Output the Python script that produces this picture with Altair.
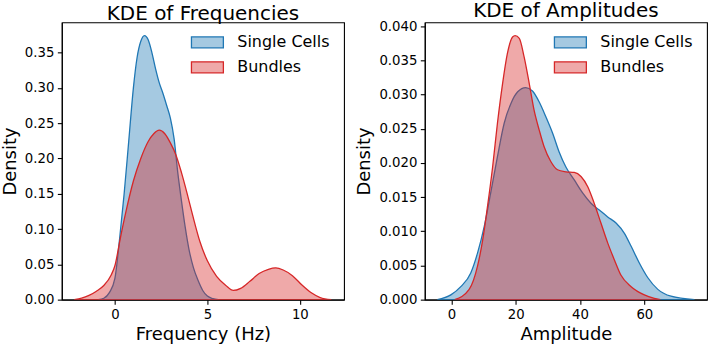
import altair as alt
import pandas as pd

# ---- Frequency KDE curves (Hz, density) ----
freq_single_x = [-0.9, -0.6, -0.3, 0.0, 0.25, 0.5, 0.75, 1.0, 1.2, 1.4, 1.6, 1.8, 2.0, 2.2, 2.4,
                 2.6, 2.8, 3.0, 3.2, 3.4, 3.6, 3.8, 4.0, 4.25, 4.5, 4.75, 5.0, 5.3, 5.6]
freq_single_y = [0.000, 0.002, 0.010, 0.030, 0.085, 0.150, 0.225, 0.300, 0.343, 0.366, 0.374, 0.368,
                 0.350, 0.327, 0.307, 0.292, 0.275, 0.257, 0.228, 0.180, 0.140, 0.103, 0.072, 0.045,
                 0.027, 0.013, 0.005, 0.0015, 0.000]

freq_bundle_x = [-2.2, -1.8, -1.4, -1.0, -0.6, -0.2, 0.0, 0.3, 0.6, 1.0, 1.4, 1.8, 2.1, 2.4, 2.7,
                 3.0, 3.3, 3.6, 3.9, 4.2, 4.6, 5.0, 5.5, 6.0, 6.4, 6.8, 7.3, 7.8, 8.3, 8.7, 9.1,
                 9.6, 10.1, 10.6, 11.1, 11.7]
freq_bundle_y = [0.000, 0.002, 0.006, 0.012, 0.020, 0.035, 0.048, 0.088, 0.125, 0.168, 0.200, 0.224,
                 0.235, 0.240, 0.235, 0.222, 0.205, 0.180, 0.151, 0.120, 0.082, 0.055, 0.033, 0.020,
                 0.013, 0.016, 0.026, 0.037, 0.043, 0.045, 0.042, 0.034, 0.021, 0.010, 0.003, 0.000]

# ---- Amplitude KDE curves ----
amp_single_x = [-4.4, -0.2, 2.9, 6.0, 8.1, 10.2, 12.2, 14.3, 16.4, 18.5, 20.6, 23.1, 25.2, 27.3,
                29.4, 31.5, 33.5, 35.6, 38.2, 40.8, 43.4, 46.0, 48.6, 51.2, 53.8, 55.9, 58.4,
                61.1, 64.2, 68.3, 75.6]
amp_single_y = [0.0000, 0.0007, 0.0019, 0.0039, 0.0068, 0.0107, 0.0156, 0.0209, 0.0258, 0.0287,
                0.0304, 0.0310, 0.0305, 0.0289, 0.0267, 0.0243, 0.0216, 0.0194, 0.0175, 0.0156,
                0.0141, 0.0131, 0.0121, 0.0112, 0.0097, 0.0078, 0.0054, 0.0032, 0.0015, 0.0005,
                0.0000]

amp_bundle_x = [1.0, 5.5, 8.1, 9.7, 11.2, 12.8, 14.3, 15.9, 17.4, 19.0, 19.8, 21.1, 22.6, 24.2,
                25.7, 27.3, 28.8, 30.9, 33.0, 35.6, 38.2, 40.3, 42.4, 44.4, 46.5, 48.6, 50.7,
                52.7, 55.9, 60.0, 63.1, 65.0]
amp_bundle_y = [0.0000, 0.0015, 0.0049, 0.0087, 0.0136, 0.0194, 0.0258, 0.0316, 0.0360, 0.0384,
                0.0386, 0.0382, 0.0355, 0.0316, 0.0277, 0.0248, 0.0224, 0.0202, 0.0190, 0.0187,
                0.0186, 0.0180, 0.0165, 0.0141, 0.0112, 0.0083, 0.0058, 0.0036, 0.0019, 0.0007,
                0.0002, 0.0000]

series_names = ["Single Cells", "Bundles"]
line_colors = ["#1f77b4", "#d62728"]
fill_colors = ["rgba(31,119,180,0.4)", "rgba(214,39,40,0.4)"]

freq_ticks = [0, 5, 10]
freq_density_ticks = [0.00, 0.05, 0.10, 0.15, 0.20, 0.25, 0.30, 0.35]
amp_ticks = [0, 20, 40, 60]
amp_density_ticks = [0.000, 0.005, 0.010, 0.015, 0.020, 0.025, 0.030, 0.035, 0.040]


def long_frame(xs_a, ys_a, xs_b, ys_b):
    a = pd.DataFrame({"x": xs_a, "density": ys_a, "series": series_names[0]})
    b = pd.DataFrame({"x": xs_b, "density": ys_b, "series": series_names[1]})
    return pd.concat([a, b], ignore_index=True)


FONT = "DejaVu Sans"
W, H = 283, 278

# wide, flat patch symbol (32 x 11 px) with a small nominal size so rows stay tight
legend_def = alt.Legend(
    title=None, orient="none", legendX=138, legendY=12,
    symbolType="M-3.2,-1.1H3.2V1.1H-3.2Z", symbolSize=100, symbolStrokeWidth=1.3,
    labelFont=FONT, labelFontSize=16, labelColor="black", labelOffset=22,
    rowPadding=7, padding=0,
)


def kde_panel(df, title, xlabel, xdom, xticks, ydom, yticks, yfmt):
    return alt.Chart(df).mark_area(
        strokeWidth=1.3, strokeOpacity=1, interpolate="monotone", clip=True
    ).encode(
        x=alt.X("x:Q", title=xlabel,
                scale=alt.Scale(domain=xdom, nice=False, zero=False),
                axis=alt.Axis(values=xticks, format="d")),
        y=alt.Y("density:Q", title="Density", stack=None,
                scale=alt.Scale(domain=ydom, nice=False),
                axis=alt.Axis(values=yticks, format=yfmt)),
        fill=alt.Fill("series:N", sort=series_names,
                      scale=alt.Scale(domain=series_names, range=fill_colors),
                      legend=legend_def),
        stroke=alt.Stroke("series:N", sort=series_names,
                          scale=alt.Scale(domain=series_names, range=line_colors),
                          legend=legend_def),
    ).properties(
        width=W, height=H,
        title=alt.TitleParams(title, font=FONT, fontSize=20, fontWeight="normal",
                              color="black", offset=-2),
    )


left = kde_panel(long_frame(freq_single_x, freq_single_y, freq_bundle_x, freq_bundle_y),
                 "KDE of Frequencies", "Frequency (Hz)", [-2.87, 12.39], freq_ticks,
                 [0, 0.3927], freq_density_ticks, ".2f")
right = kde_panel(long_frame(amp_single_x, amp_single_y, amp_bundle_x, amp_bundle_y),
                  "KDE of Amplitudes", "Amplitude", [-8.3, 79.5], amp_ticks,
                  [0, 0.04054], amp_density_ticks, ".3f")

chart = alt.hconcat(left, right, spacing=10).resolve_scale(
    fill="independent", stroke="independent", x="independent", y="independent"
).resolve_legend(
    fill="independent", stroke="independent"
).configure(
    padding={"left": 0, "top": 0, "right": 0, "bottom": 0},
    background="white",
).configure_view(
    stroke="black", strokeWidth=1.1,
).configure_axis(
    grid=False, domainColor="black", domainWidth=1.1, zindex=1,
    tickColor="black", tickWidth=1.1, tickSize=4.5,
    labelFont=FONT, labelFontSize=13.3, labelColor="black", labelPadding=3.5,
    titleFont=FONT, titleFontSize=18, titleFontWeight="normal", titleColor="black",
    titlePadding=5,
)

chart.save("out.html", embed_options={"renderer": "svg", "actions": False})
